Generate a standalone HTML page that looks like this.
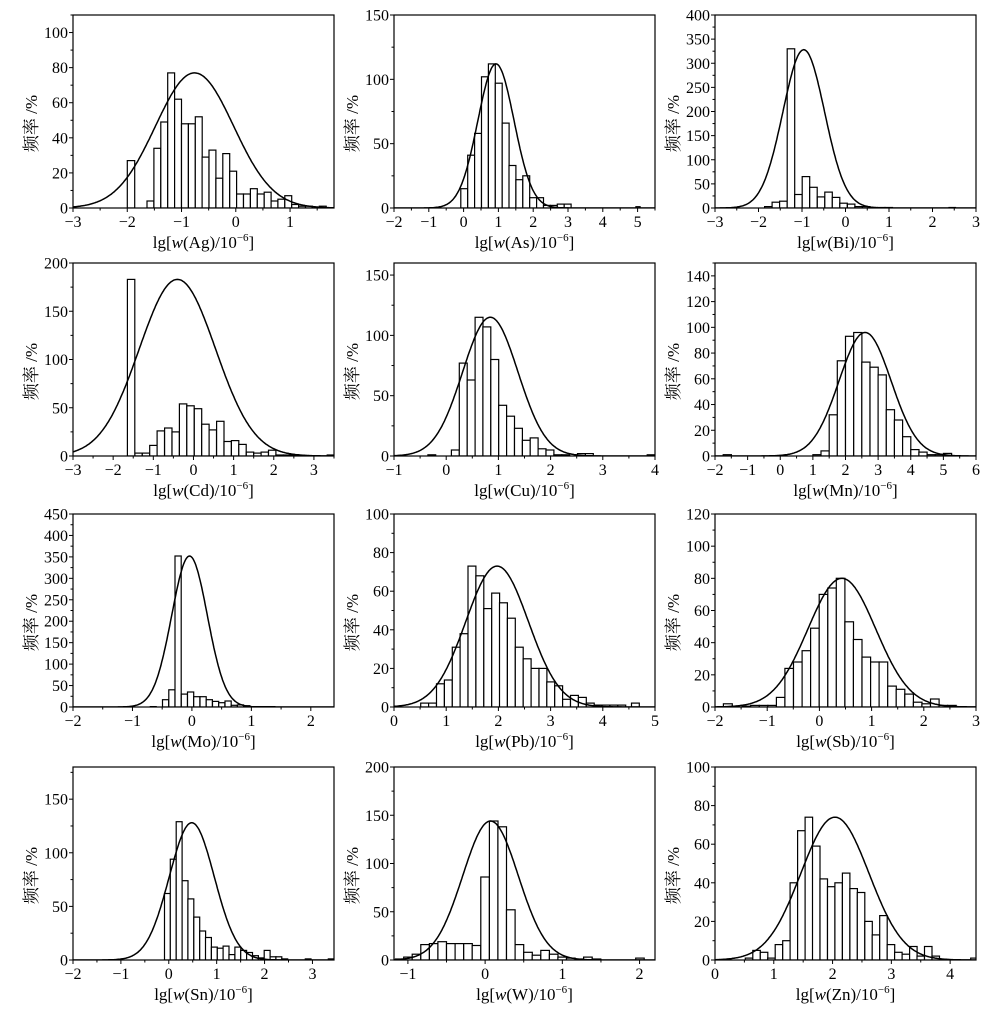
<!DOCTYPE html>
<html><head><meta charset="utf-8"><style>
body{margin:0;background:#fff;}
svg text{font-family:"Liberation Serif","Noto Serif CJK SC",serif;fill:#000;}
</style></head><body>
<svg id="s" width="1000" height="1011" xmlns="http://www.w3.org/2000/svg"></svg>
<script>
const P=[
{el:'Ag',c:0,r:0,x0:-3,x1:1.81,y1:110,yt:[0,20,40,60,80,100],ym:10,xt:[-3,-2,-1,0,1],
 st:-1.636,bw:0.127,n:[4,34,49,77,62,48,48,52,29,33,17,31,21,8,8,11,8,9,4,5,7,2,1,1,0,1],ex:[[-2,0.136,27]],mu:-0.76,A:77,sd:0.72},
{el:'As',c:1,r:0,x0:-2,x1:5.5,y1:150,yt:[0,50,100,150],ym:25,xt:[-2,-1,0,1,2,3,4,5],
 st:-0.08,bw:0.198,n:[15,41,58,102,112,97,66,33,22,25,8,8,2,2,3,3],ex:[[4.95,0.12,1]],mu:0.93,A:112,sd:0.52},
{el:'Bi',c:2,r:0,x0:-3,x1:3,y1:400,yt:[0,50,100,150,200,250,300,350,400],ym:25,xt:[-3,-2,-1,0,1,2,3],
 st:-1.86,bw:0.173,n:[3,12,14,330,28,65,43,23,33,22,10,8,3,3,1,1,1],ex:[[2.38,0.15,1]],mu:-0.96,A:328,sd:0.48},
{el:'Cd',c:0,r:1,x0:-3,x1:3.5,y1:200,yt:[0,50,100,150,200],ym:25,xt:[-3,-2,-1,0,1,2,3],
 st:-1.46,bw:0.185,n:[3,3,11,26,29,25,54,52,49,33,27,36,15,16,12,4,3,4,6,1,1,1],ex:[[-1.645,0.185,183],[3.33,0.17,1]],mu:-0.4,A:183,sd:0.95},
{el:'Cu',c:1,r:1,x0:-1,x1:4,y1:160,yt:[0,50,100,150],ym:25,xt:[-1,0,1,2,3,4],
 st:0.10,bw:0.151,n:[5,77,63,115,107,80,42,33,23,13,15,6,5,1,1,0,2,2],ex:[[-0.35,0.15,1],[3.85,0.15,1]],mu:0.845,A:115,sd:0.53},
{el:'Mn',c:2,r:1,x0:-2,x1:6,y1:150,yt:[0,20,40,60,80,100,120,140],ym:10,xt:[-2,-1,0,1,2,3,4,5,6],
 st:1.0,bw:0.25,n:[1,4,32,74,93,96,73,69,63,36,28,15,5,3,1,1,2],ex:[[-1.75,0.25,1]],mu:2.6,A:96,sd:0.8},
{el:'Mo',c:0,r:2,x0:-2,x1:2.39,y1:450,yt:[0,50,100,150,200,250,300,350,400,450],ym:25,xt:[-2,-1,0,1,2],
 st:-0.494,bw:0.105,n:[17,40,352,30,35,24,24,17,13,10,14,4,5,3,1,1,1,1],ex:[[-0.7,0.1,1]],mu:-0.04,A:352,sd:0.3},
{el:'Pb',c:1,r:2,x0:0,x1:5,y1:100,yt:[0,20,40,60,80,100],ym:10,xt:[0,1,2,3,4,5],
 st:0.512,bw:0.151,n:[2,2,12,14,31,38,73,68,51,59,54,46,31,25,20,20,13,11,4,6,5,2,1,1,1,1],ex:[[4.55,0.15,2]],mu:1.975,A:73,sd:0.6},
{el:'Sb',c:2,r:2,x0:-2,x1:3,y1:120,yt:[0,20,40,60,80,100,120],ym:10,xt:[-2,-1,0,1,2,3],
 st:-1.48,bw:0.164,n:[0.5,1,1,1,6,24,28,35,49,70,74,80,53,42,31,28,28,13,11,8,3,2,5,1,1],ex:[[-1.84,0.17,2]],mu:0.43,A:80,sd:0.65},
{el:'Sn',c:0,r:3,x0:-2,x1:3.45,y1:180,yt:[0,50,100,150],ym:25,xt:[-2,-1,0,1,2,3],
 st:-0.09,bw:0.1225,n:[62,94,129,74,57,40,27,21,12,11,13,5,12,9,7,4,2,9,3,3,1],ex:[[2.85,0.12,1],[3.33,0.12,1]],mu:0.48,A:128,sd:0.47},
{el:'W',c:1,r:3,x0:-1.18,x1:2.2,y1:200,yt:[0,50,100,150,200],ym:25,xt:[-1,0,1,2],
 st:-1.055,bw:0.111,n:[3,6,16,17,19,17,17,17,15,86,144,138,52,16,8,5,10,6,3,2,1,3,1],ex:[[-1.16,0.1,1],[1.95,0.11,2]],mu:0.07,A:144,sd:0.36},
{el:'Zn',c:2,r:3,x0:0,x1:4.44,y1:100,yt:[0,20,40,60,80,100],ym:10,xt:[0,1,2,3,4],
 st:0.516,bw:0.127,n:[1,5,4,1,8,10,40,67,74,59,42,38,40,45,37,35,20,13,23,8,4,3,7,2,7,2],ex:[[4.35,0.1,1]],mu:2.04,A:74,sd:0.58}
];
const L=[73,394,715],T=[15,263,514,767],W=261,H=193;
let o='';
P.forEach((p,i)=>{
 const l=L[p.c],t=T[p.r],b=t+H;
 const X=v=>l+(v-p.x0)/(p.x1-p.x0)*W, Y=v=>b-v/p.y1*H;
 o+=`<clipPath id="c${i}"><rect x="${l}" y="${t}" width="${W}" height="${H}"/></clipPath>`;
 o+=`<g clip-path="url(#c${i})" fill="#fff" stroke="#000" stroke-width="1.2">`;
 const bars=p.n.map((v,k)=>[p.st+k*p.bw,p.bw,v]).concat(p.ex);
 bars.forEach(([s,w,v])=>{if(v<=0)return;o+=`<rect x="${X(s).toFixed(1)}" y="${Y(v).toFixed(1)}" width="${(X(s+w)-X(s)).toFixed(1)}" height="${(b-Y(v)).toFixed(1)}"/>`;});
 let d='';for(let k=0;k<=300;k++){const x=p.x0+(p.x1-p.x0)*k/300;const y=p.A*Math.exp(-((x-p.mu)**2)/(2*p.sd*p.sd));d+=(k?'L':'M')+X(x).toFixed(1)+' '+Y(y).toFixed(1);}
 o+=`<path d="${d}" fill="none" stroke-width="1.5"/></g>`;
 o+=`<rect x="${l}" y="${t}" width="${W}" height="${H}" fill="none" stroke="#000" stroke-width="1.2"/>`;
 for(let v=0;v<=p.y1+1e-6;v+=p.ym){const maj=p.yt.some(q=>Math.abs(q-v)<1e-6);o+=`<line x1="${l}" x2="${l-(maj?4:2.5)}" y1="${Y(v)}" y2="${Y(v)}" stroke="#000"/>`;}
 p.yt.forEach(v=>{o+=`<text x="${l-5}" y="${Y(v)+5.5}" font-size="16" text-anchor="end">${v}</text>`;});
 for(let v=Math.ceil(p.x0*2)/2;v<=p.x1+1e-6;v+=0.5){const maj=Math.abs(v-Math.round(v))<1e-6;o+=`<line y1="${b}" y2="${b+(maj?4:2.5)}" x1="${X(v)}" x2="${X(v)}" stroke="#000"/>`;}
 p.xt.forEach(v=>{o+=`<text x="${X(v)}" y="${b+19}" font-size="16" text-anchor="middle">${v<0?'\u2212'+(-v):v}</text>`;});
 o+=`<text x="${l+W/2}" y="${b+40}" font-size="17" text-anchor="middle">lg[<tspan font-style="italic">w</tspan>(${p.el})/10<tspan font-size="11" dy="-7">\u22126</tspan><tspan dy="7">]</tspan></text>`;
 o+=`<text transform="translate(${l-36},${t+H/2+12}) rotate(-90)" font-size="17" text-anchor="middle">频率 /%</text>`;
});
document.getElementById('s').innerHTML=o;
</script>
</body></html>
